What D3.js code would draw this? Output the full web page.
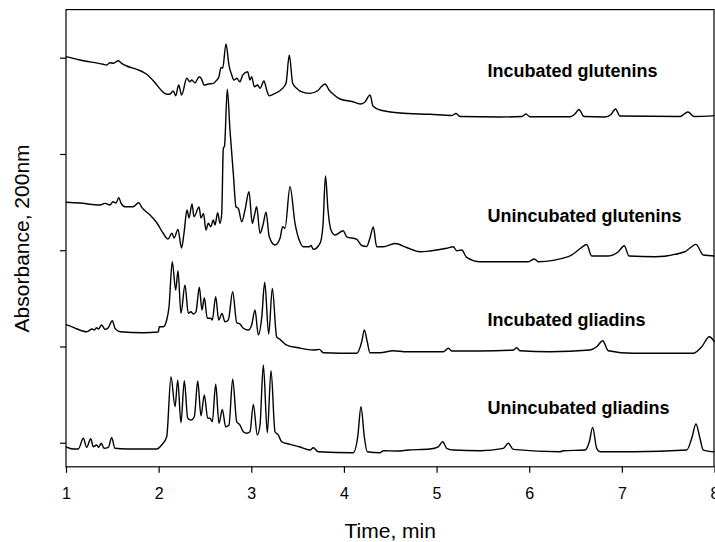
<!DOCTYPE html>
<html>
<head>
<meta charset="utf-8">
<script src="https://cdn.jsdelivr.net/npm/d3@7"></script>
<style>
  html, body { margin: 0; padding: 0; background: #fff; }
  svg { display: block; }
  text { font-family: Arial, "Liberation Sans", sans-serif; fill: #000; }
</style>
</head>
<body>
<svg id="chart" width="715" height="542"></svg>
<script>
// ---- Data (time in min, absorbance in arbitrary units; each trace offset by tick) ----
const xTicks = [1, 2, 3, 4, 5, 6, 7, 8];
const yTicks = [0, 1, 2, 3, 4];
const seriesNames = ["Incubated glutenins", "Unincubated glutenins", "Incubated gliadins", "Unincubated gliadins"];
const labelPos = [[5.55, 3.80], [5.55, 2.29], [5.55, 1.216], [5.55, 0.298]]; // [time, absorbance] of label start / baseline

const incubatedGlutenins = [
  [1.000,4.011],[1.151,3.976],[1.403,3.932],[1.439,3.924],[1.475,3.948],[1.511,3.942],[1.565,3.969],[1.601,3.942],
  [1.655,3.914],[1.763,3.880],[1.871,3.828],[1.961,3.740],[2.033,3.657],[2.087,3.620],[2.123,3.623],[2.158,3.654],
  [2.184,3.605],[2.216,3.716],[2.249,3.613],[2.303,3.786],[2.338,3.751],[2.357,3.768],[2.392,3.740],[2.439,3.803],
  [2.465,3.776],[2.490,3.716],[2.536,3.727],[2.590,3.734],[2.627,3.768],[2.651,3.803],[2.673,3.900],[2.691,3.890],
  [2.727,4.143],[2.759,3.924],[2.789,3.820],[2.813,3.768],[2.843,3.786],[2.878,3.751],[2.907,3.820],[2.961,3.855],
  [2.986,3.768],[3.004,3.803],[3.033,3.699],[3.069,3.716],[3.094,3.682],[3.137,3.758],[3.166,3.665],[3.194,3.605],
  [3.256,3.630],[3.328,3.672],[3.375,3.734],[3.410,4.028],[3.447,3.734],[3.490,3.682],[3.526,3.654],[3.634,3.630],
  [3.720,3.659],[3.752,3.696],[3.796,3.727],[3.839,3.665],[3.882,3.623],[3.958,3.571],[4.098,3.543],[4.174,3.519],
  [4.227,3.540],[4.282,3.613],[4.314,3.498],[4.389,3.457],[4.605,3.426],[4.929,3.412],[5.166,3.400],[5.210,3.420],
  [5.253,3.389],[5.685,3.384],[5.922,3.389],[5.965,3.415],[6.008,3.387],[6.440,3.387],[6.494,3.415],[6.537,3.462],
  [6.591,3.389],[6.818,3.384],[6.883,3.410],[6.931,3.467],[6.980,3.394],[7.628,3.389],[7.671,3.415],[7.714,3.436],
  [7.779,3.389],[8.000,3.398]
];

const unincubatedGlutenins = [
  [1.000,2.498],[1.151,2.490],[1.367,2.470],[1.421,2.487],[1.475,2.470],[1.507,2.504],[1.540,2.490],[1.569,2.546],
  [1.594,2.490],[1.637,2.452],[1.723,2.452],[1.785,2.494],[1.820,2.442],[1.907,2.366],[1.982,2.283],[2.047,2.179],
  [2.101,2.116],[2.144,2.176],[2.166,2.127],[2.209,2.217],[2.247,2.023],[2.274,2.179],[2.306,2.418],[2.328,2.335],
  [2.360,2.480],[2.382,2.348],[2.436,2.449],[2.457,2.335],[2.484,2.383],[2.511,2.210],[2.536,2.280],[2.562,2.244],
  [2.590,2.314],[2.608,2.262],[2.637,2.390],[2.662,2.280],[2.681,2.383],[2.698,3.059],[2.711,3.083],[2.741,3.672],
  [2.770,3.249],[2.806,2.799],[2.835,2.452],[2.860,2.435],[2.897,2.296],[2.932,2.418],[2.975,2.608],[3.011,2.280],
  [3.035,2.366],[3.058,2.452],[3.094,2.176],[3.126,2.262],[3.159,2.394],[3.194,2.140],[3.256,2.054],[3.310,2.124],
  [3.339,2.244],[3.364,2.228],[3.418,2.660],[3.472,2.280],[3.526,2.085],[3.561,2.036],[3.626,2.036],[3.645,2.049],
  [3.669,2.009],[3.742,2.072],[3.774,2.262],[3.801,2.771],[3.828,2.418],[3.860,2.210],[3.904,2.158],[3.993,2.203],
  [4.030,2.140],[4.138,2.113],[4.192,2.049],[4.246,2.039],[4.281,2.127],[4.317,2.241],[4.354,2.036],[4.425,2.036],
  [4.551,2.070],[4.677,2.028],[4.821,1.984],[4.929,1.992],[5.109,2.020],[5.181,2.036],[5.217,1.995],[5.271,2.002],
  [5.325,1.926],[5.469,1.881],[5.990,1.881],[6.055,1.909],[6.098,1.881],[6.422,1.933],[6.530,2.002],[6.570,2.033],
  [6.620,2.059],[6.674,1.940],[6.854,1.940],[6.962,1.984],[7.026,2.047],[7.077,1.940],[7.358,1.933],[7.681,1.984],
  [7.735,2.023],[7.800,2.061],[7.879,1.950],[8.000,1.940]
];

const incubatedGliadins = [
  [1.000,1.228],[1.079,1.199],[1.223,1.153],[1.284,1.181],[1.305,1.171],[1.331,1.195],[1.349,1.181],[1.385,1.223],
  [1.421,1.178],[1.457,1.195],[1.500,1.268],[1.529,1.189],[1.583,1.153],[1.834,1.143],[1.996,1.150],[2.007,1.205],
  [2.050,1.205],[2.087,1.275],[2.112,1.413],[2.147,1.881],[2.184,1.587],[2.209,1.787],[2.241,1.344],[2.284,1.639],
  [2.320,1.344],[2.349,1.361],[2.374,1.337],[2.403,1.361],[2.439,1.615],[2.468,1.379],[2.493,1.507],[2.525,1.293],
  [2.562,1.293],[2.579,1.275],[2.616,1.517],[2.648,1.275],[2.684,1.344],[2.716,1.257],[2.752,1.275],[2.799,1.569],
  [2.843,1.247],[2.878,1.233],[2.914,1.189],[2.968,1.171],[3.004,1.223],[3.040,1.379],[3.076,1.119],[3.112,1.293],
  [3.145,1.667],[3.188,1.129],[3.227,1.604],[3.274,1.101],[3.310,1.074],[3.382,1.015],[3.507,0.987],[3.669,0.963],
  [3.734,0.970],[3.777,0.935],[4.138,0.929],[4.192,1.049],[4.220,1.171],[4.252,1.049],[4.281,0.935],[4.389,0.935],
  [4.533,0.956],[4.678,0.945],[5.073,0.945],[5.127,0.981],[5.163,0.953],[5.469,0.953],[5.828,0.963],[5.865,0.987],
  [5.900,0.956],[6.224,0.945],[6.656,0.963],[6.728,0.997],[6.793,1.060],[6.854,0.956],[7.124,0.929],[7.771,0.929],
  [7.862,0.997],[7.944,1.101],[8.000,1.049]
];

const unincubatedGliadins = [
  [1.000,-0.042],[1.079,-0.065],[1.133,-0.065],[1.187,0.046],[1.223,-0.048],[1.267,0.042],[1.295,-0.042],[1.331,-0.024],
  [1.353,-0.048],[1.381,-0.006],[1.410,-0.058],[1.457,-0.048],[1.493,0.052],[1.529,-0.058],[1.655,-0.065],[1.979,-0.065],
  [2.033,-0.024],[2.087,0.062],[2.133,0.686],[2.177,0.374],[2.206,0.651],[2.241,0.208],[2.277,0.644],[2.314,0.254],
  [2.349,0.236],[2.385,0.270],[2.422,0.641],[2.457,0.281],[2.493,0.496],[2.530,0.254],[2.554,0.254],[2.579,0.218],
  [2.616,0.607],[2.651,0.202],[2.687,0.347],[2.724,0.166],[2.759,0.184],[2.799,0.659],[2.843,0.218],[2.878,0.184],
  [2.914,0.114],[2.950,0.098],[2.986,0.114],[3.022,0.399],[3.065,0.080],[3.094,0.184],[3.130,0.807],[3.173,0.104],
  [3.213,0.748],[3.256,0.114],[3.292,0.080],[3.328,0.010],[3.418,-0.017],[3.518,-0.042],[3.634,-0.076],[3.669,-0.052],
  [3.723,-0.094],[4.101,-0.104],[4.149,0.062],[4.184,0.374],[4.220,0.062],[4.252,-0.094],[4.389,-0.104],[4.425,-0.083],
  [4.569,-0.086],[4.695,-0.076],[4.929,-0.065],[5.018,-0.042],[5.066,0.010],[5.109,-0.058],[5.181,-0.076],[5.469,-0.083],
  [5.720,-0.058],[5.774,-0.006],[5.828,-0.069],[6.332,-0.094],[6.368,-0.083],[6.602,-0.076],[6.649,0.010],[6.685,0.160],
  [6.728,-0.058],[6.764,-0.094],[7.124,-0.094],[7.700,-0.076],[7.754,0.046],[7.800,0.194],[7.843,0.046],[7.879,-0.076],
  [8.000,-0.094]
];

const allSeries = [incubatedGlutenins, unincubatedGlutenins, incubatedGliadins, unincubatedGliadins];

// ---- Layout ----
const svg = d3.select("#chart");
const mLeft = 66, mRight = 714.5, mTop = 9.6, mBottom = 466.8;

const x = d3.scaleLinear().domain([1, 8]).range([mLeft, mRight]);
const y = d3.scaleLinear().domain([-0.25, 4.5]).range([mBottom, mTop]);

// frame
svg.append("rect")
  .attr("x", mLeft).attr("y", mTop)
  .attr("width", mRight - mLeft - 0.5).attr("height", mBottom - mTop)
  .attr("fill", "none").attr("stroke", "#000").attr("stroke-width", 1.2);

// axes
const xAxis = svg.append("g")
  .attr("transform", `translate(0,${mBottom})`)
  .call(d3.axisBottom(x).tickValues(xTicks).tickSize(6).tickPadding(15).tickFormat(d3.format("d")));
xAxis.select(".domain").remove();
xAxis.selectAll("text").style("font-size", "16px").style("font-family", "Arial, 'Liberation Sans', sans-serif");
xAxis.selectAll("line").attr("stroke", "#000").attr("stroke-width", 1.2);

const yAxis = svg.append("g")
  .attr("transform", `translate(${mLeft},0)`)
  .call(d3.axisLeft(y).tickValues(yTicks).tickSize(6).tickFormat(""));
yAxis.select(".domain").remove();
yAxis.selectAll("line").attr("stroke", "#000").attr("stroke-width", 1.2);

// traces
const line = d3.line()
  .x(d => x(d[0]))
  .y(d => y(d[1]))
  .curve(d3.curveMonotoneX);

svg.append("g").selectAll("path")
  .data(allSeries)
  .join("path")
  .attr("d", line)
  .attr("fill", "none")
  .attr("stroke", "#000")
  .attr("stroke-width", 1.4)
  .attr("stroke-linejoin", "round");

// trace labels
svg.append("g").selectAll("text")
  .data(seriesNames)
  .join("text")
  .attr("x", (d, i) => x(labelPos[i][0]))
  .attr("y", (d, i) => y(labelPos[i][1]))
  .style("font-size", "18px")
  .style("font-weight", "bold")
  .text(d => d);

// axis titles
svg.append("text")
  .attr("x", (mLeft + mRight) / 2)
  .attr("y", 538)
  .attr("text-anchor", "middle")
  .style("font-size", "21px")
  .text("Time, min");

svg.append("text")
  .attr("transform", "translate(28.5,238.4) rotate(-90)")
  .attr("text-anchor", "middle")
  .style("font-size", "21px")
  .text("Absorbance, 200nm");
</script>
</body>
</html>
